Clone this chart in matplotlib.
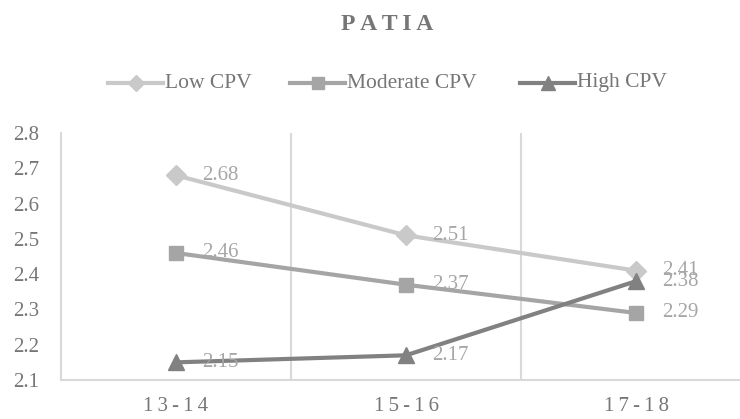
import matplotlib
matplotlib.use("Agg")
import matplotlib.pyplot as plt
from matplotlib.lines import Line2D

categories = ["13-14", "15-16", "17-18"]
series_names = ["Low CPV", "Moderate CPV", "High CPV"]
low = [2.68, 2.51, 2.41]
moderate = [2.46, 2.37, 2.29]
high = [2.15, 2.17, 2.38]
y_ticks = [2.1, 2.2, 2.3, 2.4, 2.5, 2.6, 2.7, 2.8]

plt.rcParams['font.family'] = ['Liberation Serif', 'DejaVu Serif']

W, H = 740, 419
fig = plt.figure(figsize=(W / 100, H / 100), dpi=100)
left, right, top, bottom = 61, 751, 133, 380
ax = fig.add_axes([left / W, 1 - bottom / H, (right - left) / W, (bottom - top) / H])

colors = ["#c9c9c9", "#a5a5a5", "#818181"]
markers = ["D", "s", "^"]
msizes = [10, 10, 12]
x = list(range(len(categories)))
for vals, name, c, m, ms in zip([low, moderate, high], series_names, colors, markers, msizes):
    ax.plot(x, vals, color=c, lw=3.0, marker=m, markersize=ms,
            markeredgecolor=c, zorder=3, clip_on=False)
    for xi, v in zip(x, vals):
        ax.annotate(f"{v:.2f}", (xi, v), xytext=(19, 0), textcoords="offset points",
                    ha="left", va="center", fontsize=15, color="#a6a6a6", zorder=4)

ax.set_xlim(-0.5, 2.5)
ax.set_ylim(2.1, 2.8)
ax.set_yticks(y_ticks)
ax.set_yticklabels([f"{t:.1f}" for t in y_ticks])
ax.set_xticks(x)
ax.set_xticklabels(["\u2009".join(c) for c in categories])
for b in [0.5, 1.5]:
    ax.axvline(b, color="#d9d9d9", lw=1.5, zorder=1)
for s in ["top", "right"]:
    ax.spines[s].set_visible(False)
for s in ["left", "bottom"]:
    ax.spines[s].set_color("#d9d9d9")
    ax.spines[s].set_linewidth(1.5)
ax.tick_params(axis="both", length=0, labelsize=15, labelcolor="#767676")
ax.tick_params(axis="x", pad=12)
ax.tick_params(axis="y", pad=16)

# title
fig.text(387 / W, 1 - 24 / H, "\u2009".join("PATIA"), ha="center", va="center",
         fontsize=17, fontweight="bold", color="#767676")

# legend drawn manually at measured positions
leg_y = 1 - 83 / H
leg_x = [108, 290, 520]
for lx, name, c, m, ms in zip(leg_x, series_names, colors, markers, msizes):
    fig.add_artist(Line2D([lx / W, (lx + 55) / W], [leg_y, leg_y], color=c, lw=3.0,
                          transform=fig.transFigure))
    fig.add_artist(Line2D([(lx + 27.5) / W], [leg_y], color=c, marker=m,
                          markersize=ms * 0.85, markeredgecolor=c, lw=0,
                          transform=fig.transFigure))
    fig.text((lx + 57) / W, leg_y, name, ha="left", va="center", fontsize=15.5,
             color="#767676")

fig.savefig("out.png", dpi=100)
